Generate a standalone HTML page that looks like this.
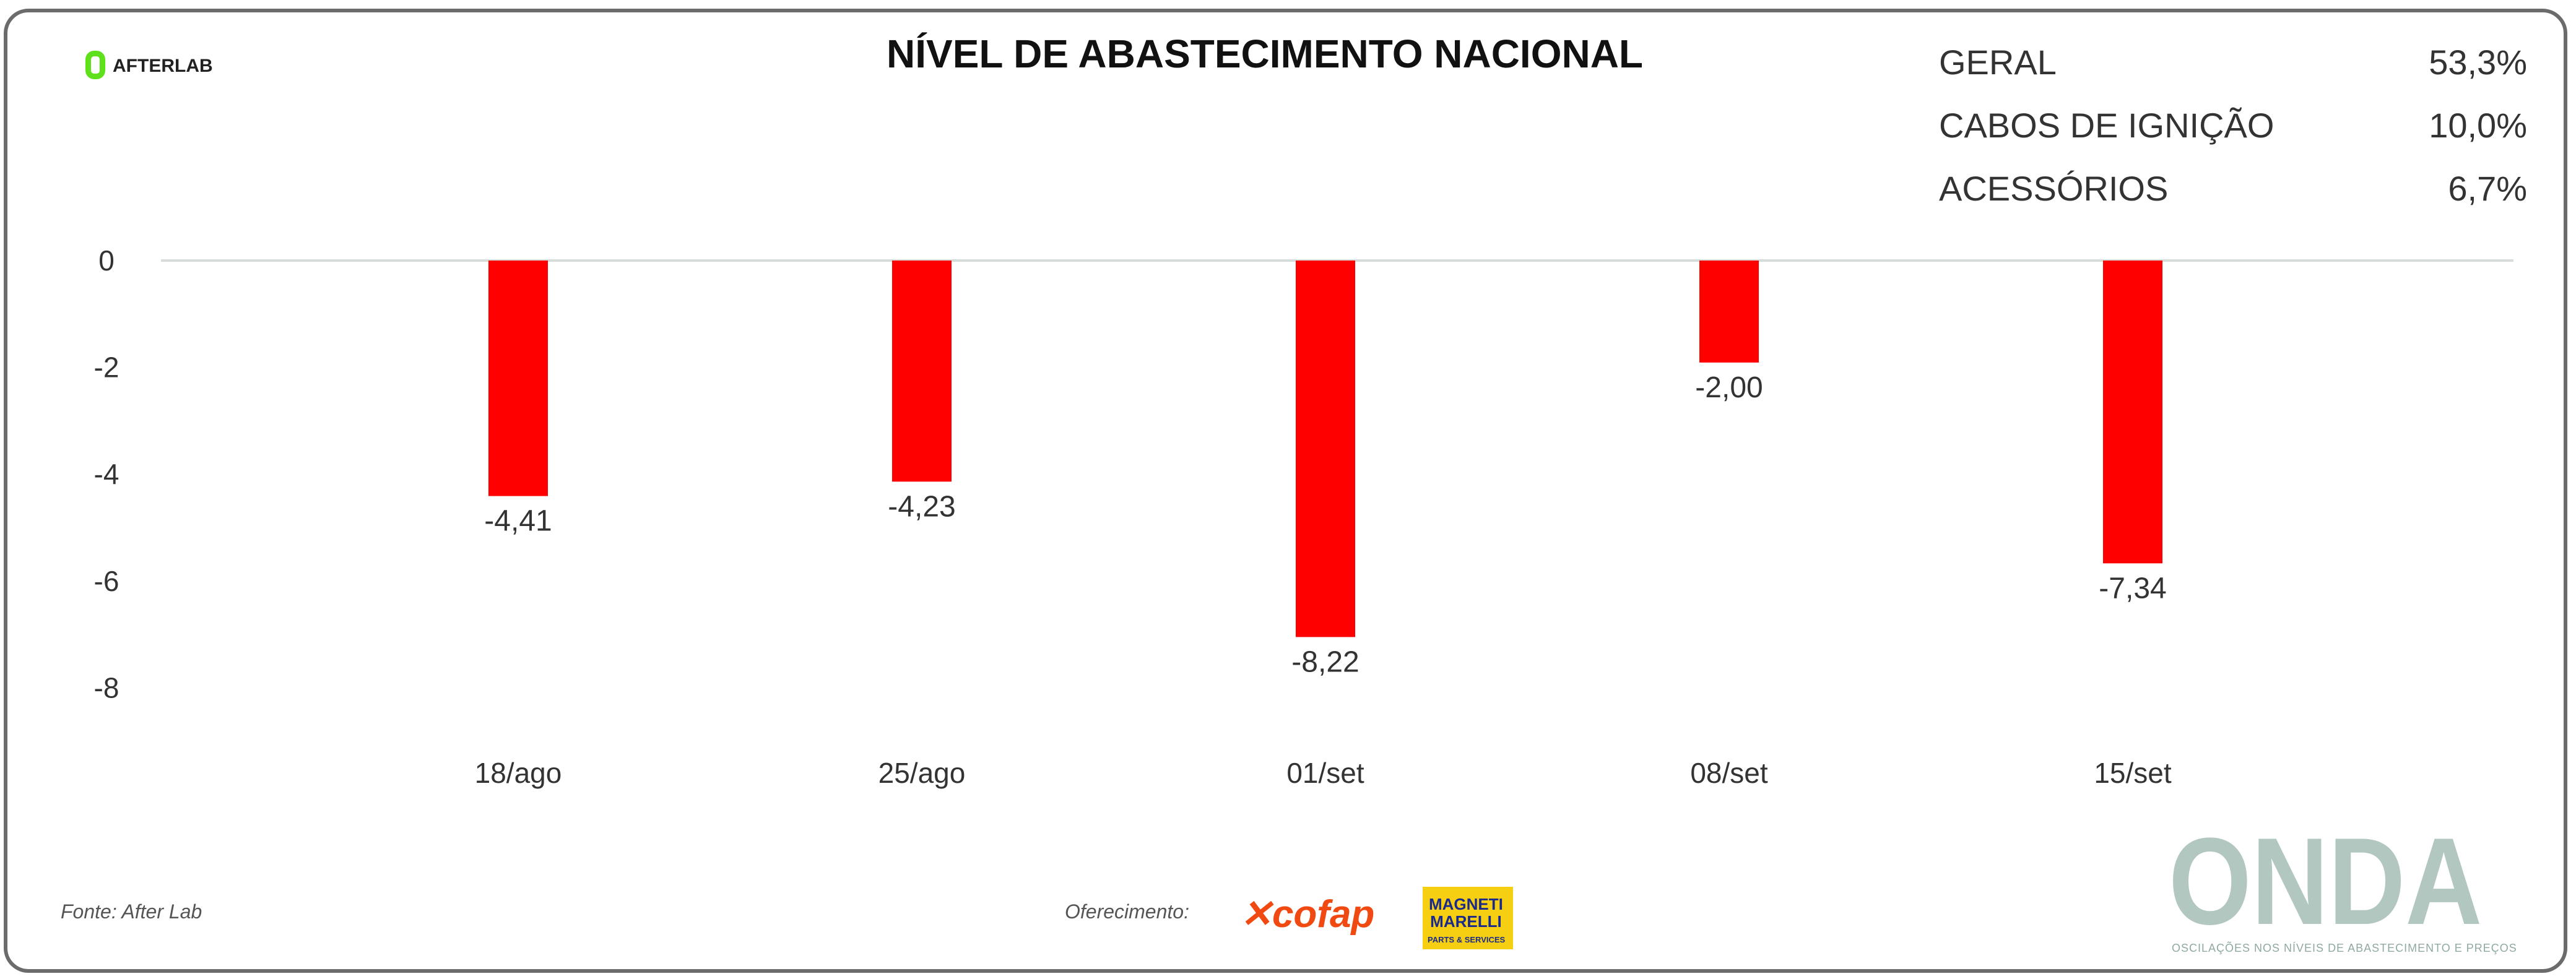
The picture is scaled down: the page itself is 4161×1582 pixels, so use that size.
<!DOCTYPE html>
<html><head><meta charset="utf-8">
<style>
html,body{margin:0;padding:0;background:#fff;}
body{width:4161px;height:1582px;overflow:hidden;position:relative;font-family:"Liberation Sans",sans-serif;}
.frame{position:absolute;left:6px;top:14px;width:4141px;height:1558px;border:6px solid #6b6b6b;border-radius:40px;box-sizing:border-box;}
.t{position:absolute;white-space:nowrap;}
</style></head>
<body>
<div class="frame"></div>
<div class="t" style="left:1432px;top:50px;font-size:64px;font-weight:bold;color:#111;">NÍVEL DE ABASTECIMENTO NACIONAL</div>
<div style="position:absolute;left:138px;top:82px;">
  <div style="position:absolute;left:0;top:0;width:32px;height:46px;border:9px solid #5ee01a;border-radius:14px;box-sizing:border-box;"></div>
  <div class="t" style="left:44px;top:8px;font-size:30px;font-weight:bold;color:#222;">AFTERLAB</div>
</div>
<div>
  <div class="t" style="left:3132px;top:68px;font-size:56px;color:#333;">GERAL</div>
  <div class="t" style="right:79px;top:68px;font-size:56px;color:#333;">53,3%</div>
  <div class="t" style="left:3132px;top:170px;font-size:56px;color:#333;">CABOS DE IGNIÇÃO</div>
  <div class="t" style="right:79px;top:170px;font-size:56px;color:#333;">10,0%</div>
  <div class="t" style="left:3132px;top:272px;font-size:56px;color:#333;">ACESSÓRIOS</div>
  <div class="t" style="right:79px;top:272px;font-size:56px;color:#333;">6,7%</div>
</div>
<svg id="chart" width="4161" height="1582" style="position:absolute;left:0;top:0;"></svg>
<div class="t" style="left:98px;top:1455px;font-size:32px;font-style:italic;color:#555;">Fonte: After Lab</div>
<div class="t" style="left:1720px;top:1455px;font-size:32px;font-style:italic;color:#555;">Oferecimento:</div>
<div class="t" style="left:2003px;top:1440px;font-size:62px;font-weight:bold;font-style:italic;color:#f04a12;">✕cofap</div>
<div style="position:absolute;left:2298px;top:1433px;width:146px;height:101px;background:#f7cf12;">
  <div class="t" style="left:10px;top:14px;font-size:26px;font-weight:bold;color:#1a2a8a;line-height:28px;text-align:center;">MAGNETI<br>MARELLI</div>
  <div class="t" style="left:8px;top:78px;font-size:13px;font-weight:bold;color:#1a2a8a;">PARTS &amp; SERVICES</div>
</div>
<div class="t" style="left:3503px;top:1335px;font-size:200px;font-weight:bold;color:#b1c7c0;line-height:180px;transform:scaleX(0.86);transform-origin:0 0;">ONDA</div>
<div class="t" style="left:3508px;top:1522px;font-size:18px;color:#8fa9a2;letter-spacing:1px;">OSCILAÇÕES NOS NÍVEIS DE ABASTECIMENTO E PREÇOS</div>
<script>
const categories=["18/ago","25/ago","01/set","08/set","15/set"];
// bar lengths as drawn in the picture (read against the y axis)
const values=[-4.41,-4.14,-7.05,-1.91,-5.67];
// printed data labels
const valueLabels=["-4,41","-4,23","-8,22","-2,00","-7,34"];
const yTicks=[0,-2,-4,-6,-8];
const svg=document.getElementById('chart');
const NS='http://www.w3.org/2000/svg';
const y0=421,pxPerUnit=86.3;
function y(v){return y0-v*pxPerUnit;}
function x(i){return 837+i*652;}
function mk(tag,attrs){const e=document.createElementNS(NS,tag);for(const k in attrs)e.setAttribute(k,attrs[k]);svg.appendChild(e);return e;}
const zl=mk('line',{x1:260,x2:4060,y1:y0,y2:y0,stroke:'#d5dcd9','stroke-width':4});


yTicks.forEach(t=>{const e=mk('text',{x:172,y:y(t)+16,'text-anchor':'middle','font-size':46,fill:'#333','font-family':'Liberation Sans'});e.textContent=String(t);

});
values.forEach((v,i)=>{
 const top=Math.min(y(0),y(v)),h=Math.abs(y(v)-y(0));
 const r=mk('rect',{x:x(i)-48,y:top,width:96,height:h,fill:'#ff0000'});
 
 
 const l=mk('text',{x:x(i),y:y(v)+56,'text-anchor':'middle','font-size':48,fill:'#333','font-family':'Liberation Sans'});l.textContent=valueLabels[i];
 
 
 const c=mk('text',{x:x(i),y:1265,'text-anchor':'middle','font-size':46,fill:'#333','font-family':'Liberation Sans'});c.textContent=categories[i];
 
 
});
</script>
</body></html>
